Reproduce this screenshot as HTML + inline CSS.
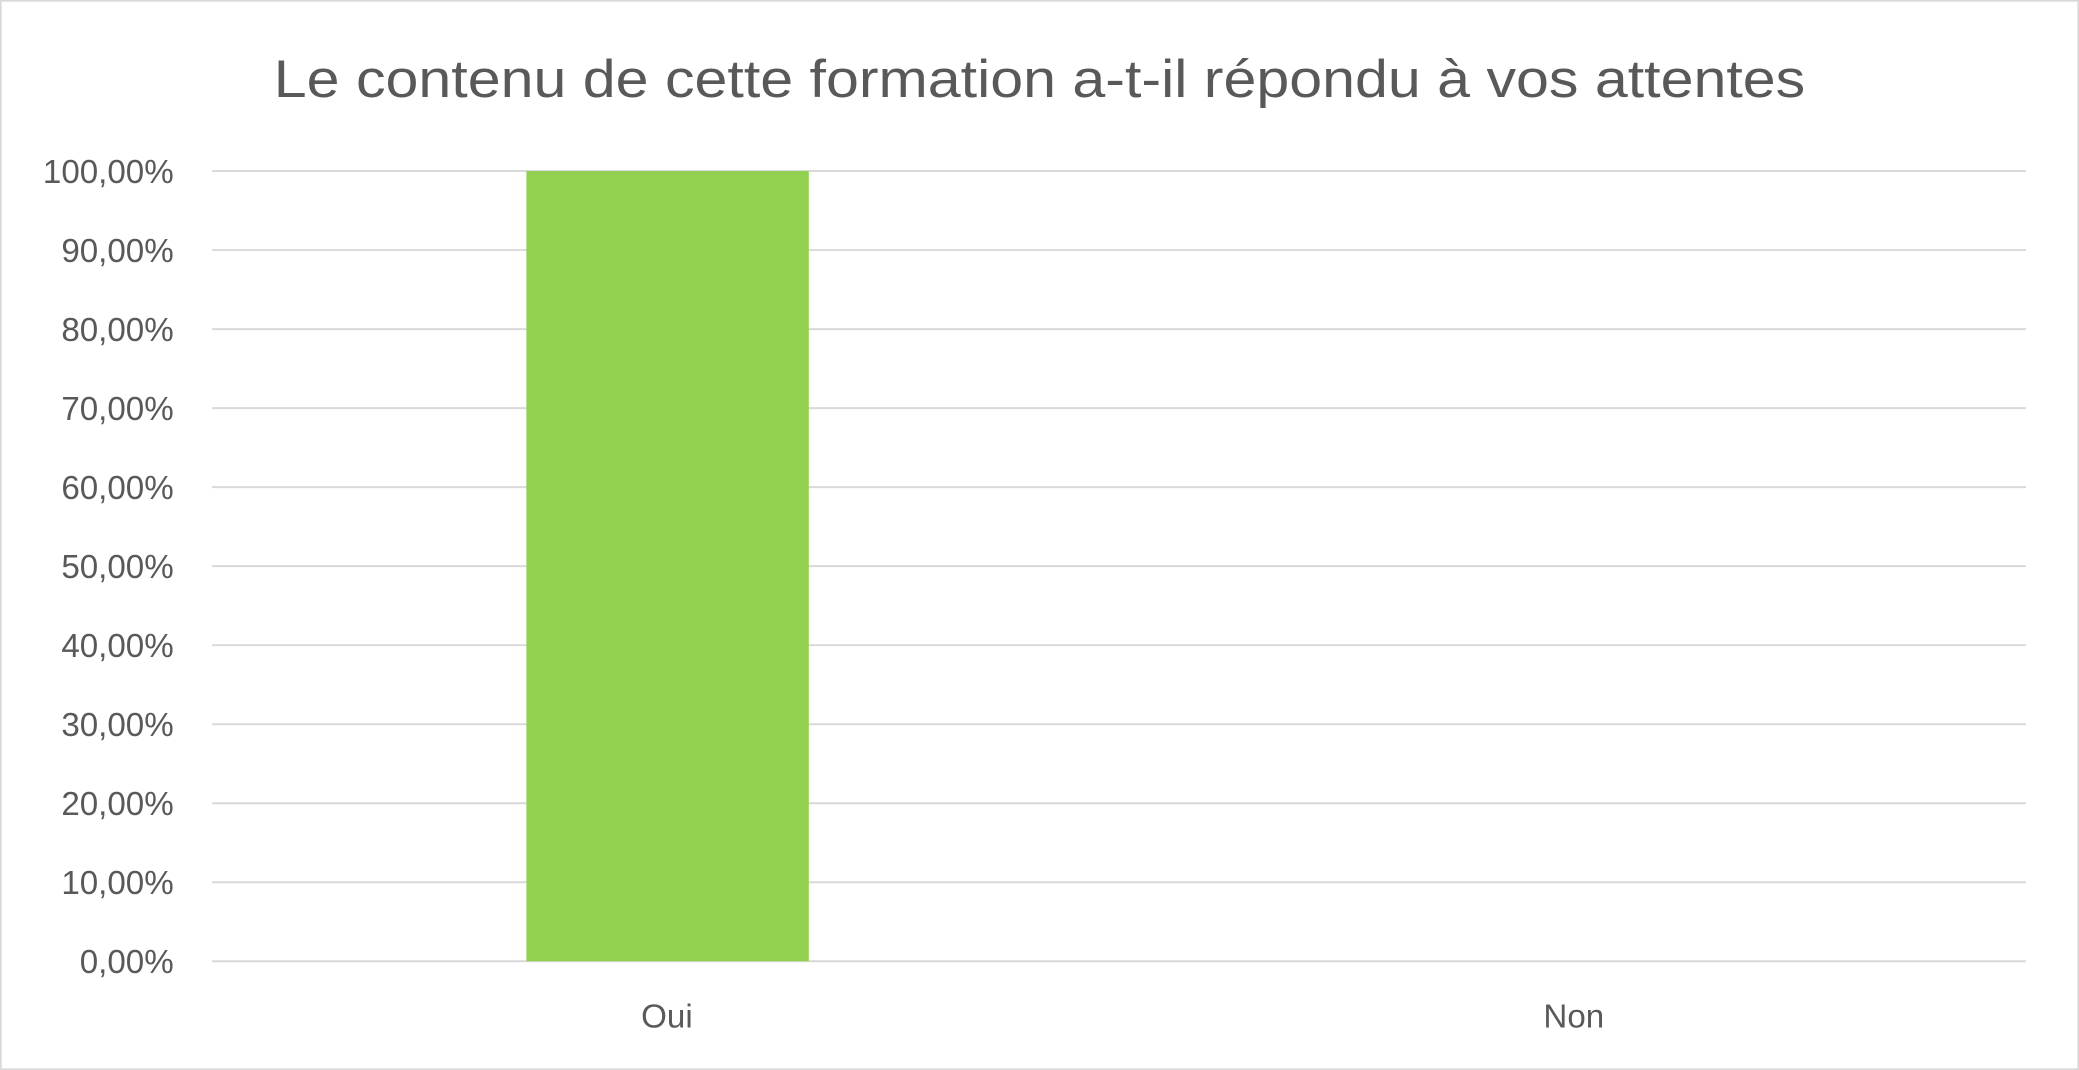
<!DOCTYPE html>
<html><head><meta charset="utf-8"><style>
html,body{margin:0;padding:0;background:#fff;}
svg{display:block;}
text{font-family:"Liberation Sans",sans-serif;fill:#595959;}
</style></head><body>
<svg width="2079" height="1070" viewBox="0 0 1568 807" preserveAspectRatio="none">
<rect x="0.5" y="0.5" width="1567" height="806" fill="#fff" stroke="#d9d9d9" stroke-width="1.5"/>
<text x="784" y="73" font-size="40" text-anchor="middle" textLength="1155" lengthAdjust="spacingAndGlyphs">Le contenu de cette formation a-t-il répondu à vos attentes</text>
<g stroke="#d9d9d9" stroke-width="1.5">
<line x1="160" x2="1528" y1="129" y2="129"/>
<line x1="160" x2="1528" y1="188.6" y2="188.6"/>
<line x1="160" x2="1528" y1="248.2" y2="248.2"/>
<line x1="160" x2="1528" y1="307.8" y2="307.8"/>
<line x1="160" x2="1528" y1="367.4" y2="367.4"/>
<line x1="160" x2="1528" y1="427" y2="427"/>
<line x1="160" x2="1528" y1="486.6" y2="486.6"/>
<line x1="160" x2="1528" y1="546.2" y2="546.2"/>
<line x1="160" x2="1528" y1="605.8" y2="605.8"/>
<line x1="160" x2="1528" y1="665.4" y2="665.4"/>
<line x1="160" x2="1528" y1="725" y2="725"/>
</g>
<rect x="397" y="129" width="213" height="596" fill="#92d050"/>
<g font-size="25" text-anchor="end">
<text x="131" y="138">100,00%</text>
<text x="131" y="197.6">90,00%</text>
<text x="131" y="257.2">80,00%</text>
<text x="131" y="316.8">70,00%</text>
<text x="131" y="376.4">60,00%</text>
<text x="131" y="436">50,00%</text>
<text x="131" y="495.6">40,00%</text>
<text x="131" y="555.2">30,00%</text>
<text x="131" y="614.8">20,00%</text>
<text x="131" y="674.4">10,00%</text>
<text x="131" y="734">0,00%</text>
</g>
<g font-size="25" text-anchor="middle">
<text x="503" y="775">Oui</text>
<text x="1187" y="775">Non</text>
</g>
</svg>
</body></html>
